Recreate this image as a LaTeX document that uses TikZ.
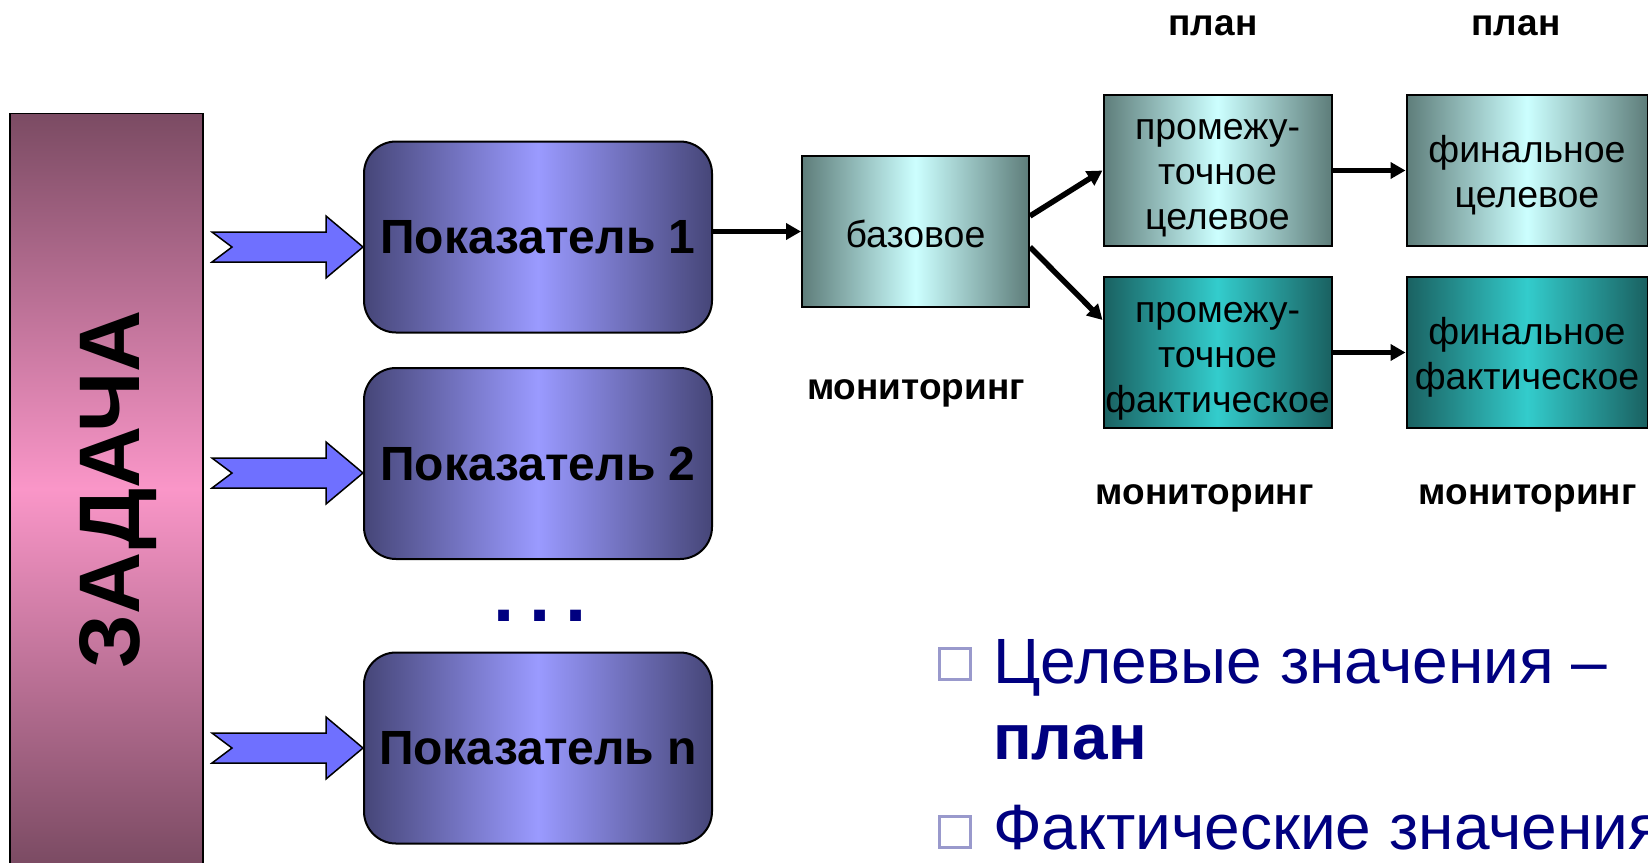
\documentclass[tikz,border=0pt]{standalone}
\usepackage{fontspec}
\setmainfont{Liberation Sans}
\usetikzlibrary{arrows.meta,calc}
\definecolor{zadDark}{HTML}{7B4B63}
\definecolor{zadPink}{HTML}{FA96C8}
\definecolor{pDark}{HTML}{464678}
\definecolor{pLight}{HTML}{9A9AFF}
\definecolor{lDark}{HTML}{5E7D7A}
\definecolor{lLight}{HTML}{CCFFFF}
\definecolor{dDark}{HTML}{1A6161}
\definecolor{dLight}{HTML}{33CCCC}
\definecolor{arrowBlue}{HTML}{6F70FF}
\definecolor{navy}{HTML}{000080}
\definecolor{bulletGray}{HTML}{9999CC}
\tikzset{
  zadbox/.style={draw=black, line width=1.5pt, top color=zadDark, bottom color=zadDark, middle color=zadPink, minimum width=193pt, minimum height=750.5pt, inner sep=0pt},
  pbox/.style={draw=black, line width=2pt, rounded corners=32pt, left color=pDark, right color=pDark, middle color=pLight, minimum width=348pt, minimum height=191pt, inner sep=0pt, font=\fontsize{48}{56}\selectfont\bfseries},
  lightbox/.style={draw=black, line width=2pt, left color=lDark, right color=lDark, middle color=lLight, minimum height=151pt, inner sep=0pt},
  darkbox/.style={draw=black, line width=2pt, left color=dDark, right color=dDark, middle color=dLight, minimum height=151pt, inner sep=0pt},
  boxtext/.style={inner sep=0pt, align=center, font=\fontsize{37.5}{45}\selectfont},
  conn/.style={line width=5.5pt, -{Triangle[length=15pt,width=16pt]}},
  blockarrow/.style={draw=black, line width=1.5pt, fill=arrowBlue, line join=miter},
  lbl/.style={font=\fontsize{37}{44}\selectfont\bfseries, inner sep=0pt, anchor=base},
  navytext/.style={text=navy, font=\fontsize{64}{76}\selectfont, inner sep=0pt, anchor=base west},
  bulletbox/.style={draw=bulletGray, line width=3pt, minimum size=31pt, inner sep=0pt},
}
\newcommand\blockarr[1]{%
  \draw[blockarrow] ($(#1)+(-151,15)$) -- ($(#1)+(-37,15)$) -- ($(#1)+(-37,31)$) -- (#1) -- ($(#1)+(-37,-31)$) -- ($(#1)+(-37,-15)$) -- ($(#1)+(-151,-15)$) -- ($(#1)+(-131,0)$) -- cycle;}
\begin{document}
\begin{tikzpicture}[x=1pt,y=1pt]
\path[use as bounding box] (0,0) rectangle (1648,-862);
\clip (0,0) rectangle (1648,-862);
\fill[white] (0,0) rectangle (1648,-862);

% task column
\node[zadbox] (zad) at (106.5,-488.75) {};
\node[rotate=90, anchor=base, inner sep=0pt, font=\fontsize{86}{96}\selectfont\bfseries] (zadtext) at (139,-489.5) {ЗАДАЧА};

% indicators
\node[pbox] (P1) at (538,-237) {Показатель 1};
\node[pbox] (P2) at (538,-463.5) {Показатель 2};
\node[pbox] (P3) at (538,-748) {Показатель n};

\coordinate (t1) at ($(P1.west)+(0,-10)$);
\coordinate (t2) at ($(P2.west)+(0,-9.5)$);
\coordinate (t3) at (P3.west);
\blockarr{t1}
\blockarr{t2}
\blockarr{t3}

\node[anchor=base, inner sep=0pt, text=navy, font=\fontsize{76}{80}\selectfont\bfseries] (dots) at (540,-621) {.\hspace{14.5pt}.\hspace{14.5pt}.};

% values
\node[lightbox, minimum width=227pt] (base) at (915.5,-231.5) {};
\node[lightbox, minimum width=228pt] (pi1) at (1217.5,-170.5) {};
\node[lightbox, minimum width=241pt] (fin1) at (1527,-170.5) {};
\node[darkbox, minimum width=228pt] (pi2) at (1217.5,-352.5) {};
\node[darkbox, minimum width=241pt] (fin2) at (1527,-352.5) {};

\node[boxtext] (baset) at ($(base.center)+(0,-2)$) {базовое};
\node[boxtext] (pi1t) at ($(pi1.center)+(0,-8)$) {промежу-\\точное\\целевое};
\node[boxtext] (fin1t) at ($(fin1.center)+(0,-5)$) {финальное\\целевое};
\node[boxtext] (pi2t) at ($(pi2.center)+(0,-9)$) {промежу-\\точное\\фактическое};
\node[boxtext] (fin2t) at ($(fin2.center)+(0,-5)$) {финальное\\фактическое};

\draw[conn] (base.west -| P1.east) -- (base.west);
\draw[conn] ($(base.east)+(0,15.5)$) -- (pi1.west);
\draw[conn] ($(base.east)+(0,-15.5)$) -- ($(pi2.west)+(0,32.5)$);
\draw[conn] (pi1.east) -- (fin1.west);
\draw[conn] (pi2.east) -- (fin2.west);

% labels
\node[lbl] (plan1) at (1213,-35.7) {план};
\node[lbl] (plan2) at (1516,-35.7) {план};
\node[lbl] (mon0) at (916,-399.5) {мониторинг};
\node[lbl] (mon1) at (1204.5,-504.5) {мониторинг};
\node[lbl] (mon2) at (1527.5,-504.5) {мониторинг};

% bullets
\node[bulletbox] (sq1) at (955,-663.5) {};
\node[navytext] (b1) at (993,-683) {Целевые значения –};
\node[navytext, font=\fontsize{64}{76}\selectfont\bfseries] (b1b) at (993,-759) {план};
\node[bulletbox] (sq2) at (955,-832) {};
\node[navytext] (b2) at (993,-849) {Фактические значения};
\end{tikzpicture}
\end{document}
